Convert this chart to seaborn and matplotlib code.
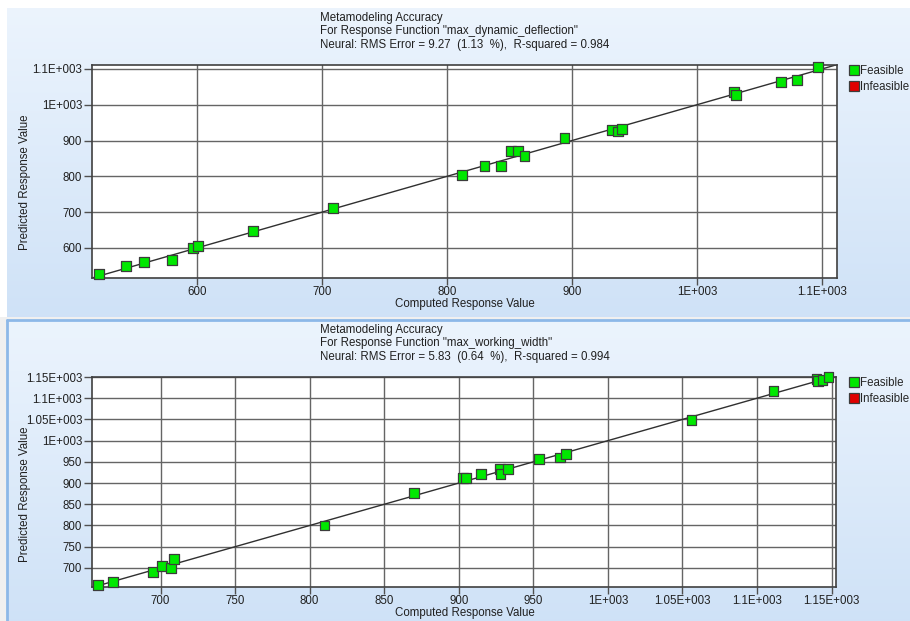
import numpy as np
import pandas as pd
import matplotlib
matplotlib.use("Agg")
import matplotlib.pyplot as plt
import seaborn as sns
from matplotlib.lines import Line2D
from matplotlib.patches import Rectangle

# ---------------- data ----------------
p1_computed = [521.6, 543, 557.6, 580, 597, 601, 645, 709, 812, 830, 843, 851, 857, 862,
               894, 932, 937, 940, 1029.6, 1031, 1067, 1080, 1097]
p1_predicted = [527, 550, 561, 566, 600, 605, 647, 712, 804, 829, 829, 871, 871, 857,
                907, 930, 925, 932, 1035, 1027, 1064, 1069, 1105]
p1_xticks = [600, 700, 800, 900, 1000, 1100]
p1_yticks = [600, 700, 800, 900, 1000, 1100]
p1_title = ['Metamodeling Accuracy',
            'For Response Function "max_dynamic_deflection"',
            'Neural: RMS Error = 9.27  (1.13  %),  R-squared = 0.984']

p2_computed = [658, 668, 695, 701, 707, 709, 810, 870, 903, 905, 915, 927.5, 928, 933,
               954, 968, 972, 1056, 1111, 1140, 1141, 1144, 1148]
p2_predicted = [660, 667, 690, 705, 700, 721, 800, 876, 912, 912, 921, 933, 921, 933,
                957, 960, 969, 1049, 1117, 1145, 1141, 1143, 1150]
p2_xticks = [700, 750, 800, 850, 900, 950, 1000, 1050, 1100, 1150]
p2_yticks = [700, 750, 800, 850, 900, 950, 1000, 1050, 1100, 1150]
p2_title = ['Metamodeling Accuracy',
            'For Response Function "max_working_width"',
            'Neural: RMS Error = 5.83  (0.64  %),  R-squared = 0.994']

status_labels = ["Feasible", "Infeasible"]
status_colors = ["#00E800", "#E00000"]
x_label = "Computed Response Value"
y_label = "Predicted Response Value"

# ---------------- style ----------------
sns.set_style("white")
plt.rcParams['font.family'] = ['Liberation Sans', 'DejaVu Sans']
FS = 8.3

W, H = 910, 621
fig = plt.figure(figsize=(W / 100, H / 100), dpi=100)
fig.patch.set_facecolor("#FFFFFF")

def fx(px):
    return px / W

def fy(py):
    return 1 - py / H

# gray gap / background
fig.patches.append(Rectangle((0, 0), 1, fy(317), transform=fig.transFigure,
                             facecolor="#F0F0F0", edgecolor="none", zorder=-3))

def panel_bg(x0, y0, x1, y1, border=False):
    bg = fig.add_axes([fx(x0), fy(y1), fx(x1 - x0), fy(y0) - fy(y1)])
    grad = np.linspace(0, 1, 256).reshape(-1, 1)
    top = np.array([0.925, 0.957, 0.992])
    bot = np.array([0.812, 0.886, 0.969])
    img = top[None, None, :] * (1 - grad[:, :, None]) + bot[None, None, :] * grad[:, :, None]
    bg.imshow(img, aspect='auto', extent=[0, 1, 0, 1], interpolation='bilinear')
    bg.set_xlim(0, 1)
    bg.set_ylim(0, 1)
    bg.set_axis_off()
    if border:
        bg.plot([0, 0], [0, 1], color="#8DB8E8", lw=2, transform=bg.transAxes, clip_on=False)
        bg.plot([0, 1], [1, 1], color="#8DB8E8", lw=2, transform=bg.transAxes, clip_on=False)
    return bg

panel_bg(7, 8, 910, 317)
panel_bg(7, 320, 910, 621, border=True)

def fmt(v):
    if v >= 1000:
        return f"{v / 1000:g}E+003"
    return f"{int(v)}"

def draw_panel(rect_px, comp, pred, xticks, yticks, xlim, ylim, title, title_top,
               xlabel_y, ylabel_y, legend_y):
    x0, y0, x1, y1 = rect_px
    ax = fig.add_axes([fx(x0), fy(y1), fx(x1 - x0), fy(y0) - fy(y1)])
    ax.set_facecolor("white")
    df = pd.DataFrame({"Computed": comp, "Predicted": pred,
                       "Status": [status_labels[0]] * len(comp)})
    ax.set_xlim(*xlim)
    ax.set_ylim(*ylim)
    lo = min(xlim[0], ylim[0])
    hi = max(xlim[1], ylim[1])
    ax.plot([lo, hi], [lo, hi], color="#303030", lw=1.0, zorder=2)
    sns.scatterplot(data=df, x="Computed", y="Predicted", hue="Status",
                    palette={status_labels[0]: status_colors[0],
                             status_labels[1]: status_colors[1]},
                    marker="s", s=48, edgecolor="#3C3C3C", linewidth=0.9,
                    legend=False, ax=ax, zorder=3, clip_on=False)
    ax.set_xlim(*xlim)
    ax.set_ylim(*ylim)
    ax.set_xticks(xticks)
    ax.set_yticks(yticks)
    ax.set_xticklabels([fmt(v) for v in xticks], fontsize=FS, color="#202020")
    ax.set_yticklabels([fmt(v) for v in yticks], fontsize=FS, color="#202020")
    ax.tick_params(axis='x', direction='out', length=5, width=1, color="#505050",
                   pad=1, bottom=True)
    ax.tick_params(axis='y', direction='out', length=6, width=1, color="#505050",
                   pad=1, left=True)
    ax.grid(True, color="#656565", lw=1.0, zorder=1)
    ax.set_axisbelow(True)
    for sp in ax.spines.values():
        sp.set_color("#404040")
        sp.set_linewidth(1.2)
        sp.set_visible(True)
    ax.set_xlabel("")
    ax.set_ylabel("")
    fig.text(fx(320), fy(title_top), "\n".join(title), ha='left', va='top',
             fontsize=FS, color="#202020", linespacing=1.15)
    fig.text(fx(465), fy(xlabel_y), x_label, ha='center', va='center',
             fontsize=FS, color="#202020")
    fig.text(fx(25), fy(ylabel_y), y_label, ha='center', va='center',
             rotation=90, fontsize=FS, color="#202020")
    handles = [Line2D([], [], marker='s', linestyle='none', markersize=7,
                      markerfacecolor=c, markeredgecolor="#3C3C3C", markeredgewidth=0.9)
               for c in status_colors]
    fig.legend(handles, status_labels, loc='upper left',
               bbox_to_anchor=(fx(849), fy(legend_y)), frameon=False,
               fontsize=FS, handlelength=0.8, handletextpad=0.15,
               labelspacing=0.35, borderpad=0, borderaxespad=0)
    return ax

draw_panel((92, 65, 837, 278), p1_computed, p1_predicted, p1_xticks, p1_yticks,
           (516, 1112), (516, 1111), p1_title, 12, 304, 182, 65)
draw_panel((92, 377, 836, 587), p2_computed, p2_predicted, p2_xticks, p2_yticks,
           (654, 1153), (655, 1150), p2_title, 324, 613, 494, 377)

fig.savefig("out.png", dpi=100, facecolor=fig.get_facecolor())
